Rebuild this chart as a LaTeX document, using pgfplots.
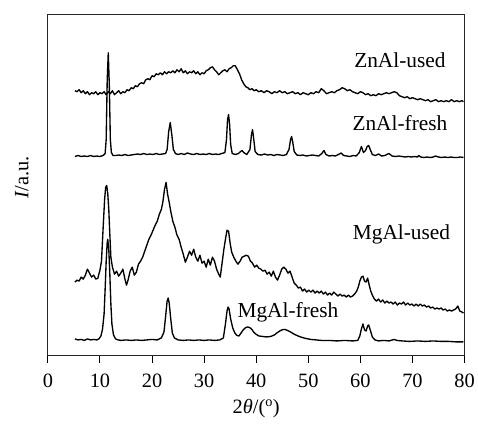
\documentclass[border=0pt]{standalone}
\usepackage{pgfplots}
\pgfplotsset{compat=1.18}
\usepackage{fontspec}
\setmainfont{Liberation Serif}
\begin{document}
\begin{tikzpicture}
\begin{axis}[
  scale only axis, width=418bp, height=342bp,
  xmin=0, xmax=80, ymin=15, ymax=357, y dir=reverse,
  xtick={0,10,...,80}, ytick=\empty, xtick pos=bottom,
  tick align=outside, major tick length=7bp,
  axis line style={black!85, line width=1pt},
  every tick/.style={black, line width=1pt},
  tick label style={font=\fontsize{20.5}{24}\selectfont},
  x tick label style={yshift=-8bp},
  /pgf/number format/assume math mode=true,
  xlabel={2\textit{θ}/(\textsuperscript{o})},
  ylabel={\textit{I}/a.u.},
  x label style={at={(rel axis cs:0.5,0)}, anchor=center, yshift=-53bp, font=\fontsize{20.5}{24}\selectfont},
  y label style={at={(rel axis cs:0,0.523)}, anchor=center, yshift=26bp, font=\fontsize{20.5}{24}\selectfont},
  clip=false,
  every axis plot post/.append style={black, mark=none, line width=1.35pt, line join=round},
]
% ZnAl-used
\addplot coordinates {
(5.2,91)(5.6,92)(6.0,90)(6.4,93)(6.8,91)(7.2,94)(7.6,92)(8.0,95)(8.4,93)(8.8,94)(9.2,92)(9.6,95)(10.0,93)(10.4,94)(10.8,92)(11.2,95)(11.6,92)(12.0,94)(12.4,91)(12.8,95)(13.2,93)(13.6,91)(14.0,94)(14.4,92)(14.8,93)(15.2,90)(15.6,91)(16.0,88)(16.4,89)(16.8,86)(17.2,87)(17.6,84)(18.0,83)(18.4,84)(18.8,80)(19.2,79)(19.6,80)(20.0,76)(20.4,77)(20.8,74)(21.2,75)(21.6,73)(22.0,75)(22.4,72)(22.8,74)(23.2,72)(23.6,73)(24.0,71)(24.4,73)(24.8,70)(25.2,72)(25.6,69)(26.0,73)(26.4,71)(26.8,74)(27.2,72)(27.6,73)(28.0,71)(28.4,74)(28.8,72)(29.2,75)(29.6,73)(30.0,74)(30.4,71)(30.8,70)(31.2,68)(31.6,67)(32.0,70)(32.4,72)(32.8,75)(33.2,73)(33.6,71)(34.0,70)(34.4,72)(34.8,69)(35.2,68)(35.6,66)(36.0,66)(36.4,70)(36.8,74)(37.2,80)(37.6,84)(38.0,87)(38.4,88)(38.8,90)(39.2,89)(39.6,91)(40.0,90)(40.5,92)(41.0,91)(41.5,93)(42.0,91)(42.5,92)(43.0,94)(43.5,92)(44.0,93)(44.5,91)(45.0,93)(45.5,92)(46.0,94)(46.5,93)(47.0,92)(47.5,94)(48.0,93)(48.5,95)(49.0,93)(49.5,94)(50.0,95)(50.5,93)(51.0,94)(51.5,92)(52.0,93)(52.5,89)(53.0,91)(53.5,94)(54.0,93)(54.5,92)(55.0,93)(55.5,91)(56.0,90)(56.5,88)(57.0,89)(57.5,91)(58.0,90)(58.5,92)(59.0,93)(59.5,94)(60.0,92)(60.5,93)(61.0,95)(61.5,94)(62.0,96)(62.5,95)(63.0,96)(63.5,94)(64.0,95)(64.5,94)(65.0,93)(65.5,94)(66.0,93)(66.5,92)(67.0,93)(67.5,96)(68.0,97)(68.5,98)(69.0,97)(69.5,99)(70.0,98)(70.5,99)(71.0,100)(71.5,99)(72.0,100)(72.5,101)(73.0,100)(73.5,102)(74.0,101)(74.5,100)(75.0,102)(75.5,101)(76.0,102)(76.5,101)(77.0,102)(77.5,100)(78.0,102)(78.5,101)(79.0,102)(79.5,101)(79.8,102)
};
% ZnAl-fresh
\addplot coordinates {
(5.2,157)(5.8,156)(6.4,157)(7.0,156.5)(7.6,157)(8.2,156)(8.8,157)(9.4,156.5)(10.0,157)(10.6,156)(11.0,154)(11.2,140)(11.4,80)(11.6,53)(11.8,85)(12.0,140)(12.2,153)(12.5,156)(13.0,156)(13.6,155.5)(14.2,156)(14.8,155)(15.4,156)(16.0,155.5)(16.6,155)(17.2,154.5)(17.8,155)(18.4,154)(19.0,155)(19.6,154.5)(20.2,155)(20.8,154)(21.4,155)(22.0,154.5)(22.6,154)(22.9,150)(23.2,132)(23.5,123)(23.8,135)(24.1,150)(24.5,154)(25.0,155)(25.6,154)(26.2,155)(26.8,153.5)(27.4,154.5)(28.0,155)(28.6,154)(29.2,155)(29.8,154.5)(30.4,155)(31.0,154)(31.6,155)(32.2,154.5)(32.8,155)(33.4,154)(34.0,153)(34.3,140)(34.5,120)(34.7,115)(34.9,125)(35.1,145)(35.4,154)(36.0,155)(36.6,154)(37.0,152)(37.3,151)(37.6,153)(38.2,155)(38.8,150)(39.1,135)(39.3,130)(39.5,138)(39.8,152)(40.3,155)(41.0,155.5)(41.6,154.5)(42.2,155.5)(42.8,155)(43.4,156)(44.0,155)(44.6,155.5)(45.2,156)(45.8,155)(46.3,150)(46.6,140)(46.8,137)(47.0,142)(47.3,152)(47.8,155.5)(48.4,156)(49.0,155.5)(49.6,156.5)(50.2,156)(50.8,155.5)(51.4,156)(52.0,156.5)(52.6,154)(53.0,151)(53.4,155)(54.0,156.5)(54.6,156)(55.2,156.5)(55.8,155)(56.3,153.5)(56.8,156)(57.4,156.5)(58.0,157)(58.6,156)(59.2,156.5)(59.8,153)(60.2,147)(60.6,153)(61.0,151)(61.3,147)(61.6,146)(61.9,150)(62.3,155)(62.9,156)(63.5,154.5)(64.1,156.5)(64.7,156)(65.5,154)(66.1,156.5)(66.8,157)(67.4,156.5)(68.0,157)(68.6,157.5)(69.2,157)(69.8,157.5)(70.4,157)(71.0,157.5)(71.2,156)(71.6,157.5)(72.2,158)(72.8,157.5)(73.4,158)(74.0,157.5)(74.4,156.5)(75.0,157.5)(75.6,158)(76.2,157.5)(76.8,158)(77.4,157.5)(78.0,158)(78.6,158)(79.2,157.5)(79.8,158)
};
% MgAl-used
\addplot coordinates {
(5.2,283)(5.6,281)(6.0,282)(6.4,278)(6.8,280)(7.2,276)(7.6,270)(8.0,274)(8.4,278)(8.8,276)(9.2,280)(9.6,279)(10.0,271)(10.3,262)(10.6,230)(10.9,200)(11.1,188)(11.3,186)(11.5,194)(11.7,210)(11.9,235)(12.1,258)(12.4,268)(12.8,275)(13.2,272)(13.6,277)(14.0,274)(14.4,270)(14.8,280)(15.1,286)(15.4,281)(15.8,272)(16.2,268)(16.6,276)(17.0,273)(17.4,265)(17.8,262)(18.2,258)(18.6,252)(19.0,246)(19.4,240)(19.8,236)(20.2,231)(20.6,226)(21.0,222)(21.4,215)(21.8,210)(22.1,202)(22.4,190)(22.7,183)(23.0,195)(23.3,203)(23.6,212)(24.0,222)(24.4,228)(24.8,236)(25.2,240)(25.6,248)(26.0,255)(26.4,263)(26.8,258)(27.2,252)(27.6,256)(28.0,250)(28.4,258)(28.8,262)(29.2,256)(29.6,264)(30.0,262)(30.4,268)(30.8,260)(31.2,266)(31.6,258)(32.0,262)(32.4,270)(32.8,275)(33.1,278)(33.4,266)(33.8,250)(34.1,240)(34.4,231)(34.7,232)(35.0,244)(35.3,253)(35.7,258)(36.1,262)(36.5,265)(36.9,262)(37.3,258)(37.7,257)(38.1,256)(38.5,257)(38.9,262)(39.3,264)(39.7,268)(40.1,266)(40.5,269)(40.9,270)(41.3,272)(41.7,271)(42.1,275)(42.5,273)(42.9,277)(43.3,272)(43.7,278)(44.1,281)(44.5,276)(44.9,270)(45.3,268)(45.7,270)(46.1,274)(46.5,272)(46.9,278)(47.3,284)(47.7,286)(48.1,289)(48.5,288)(48.9,292)(49.3,290)(49.7,293)(50.1,291)(50.5,293)(50.9,291)(51.3,294)(51.7,292)(52.1,294)(52.5,292)(52.9,295)(53.3,293)(53.7,296)(54.1,294)(54.5,296)(54.9,293)(55.3,295)(55.7,297)(56.1,295)(56.5,297)(56.9,296)(57.3,298)(57.7,296)(58.1,298)(58.5,297)(58.9,295)(59.3,292)(59.6,288)(59.9,282)(60.2,278)(60.5,277)(60.8,282)(61.1,283)(61.4,279)(61.7,286)(62.0,292)(62.3,296)(62.7,300)(63.1,302)(63.5,300)(63.9,303)(64.3,301)(64.7,304)(65.1,302)(65.5,304)(65.9,303)(66.3,305)(66.7,303)(67.1,306)(67.5,304)(67.9,305)(68.3,303)(68.7,306)(69.1,304)(69.5,306)(69.9,305)(70.3,307)(70.7,305)(71.1,307)(71.5,305)(71.9,307)(72.3,306)(72.7,308)(73.1,307)(73.5,309)(73.9,308)(74.3,310)(74.7,309)(75.1,310)(75.5,309)(75.9,311)(76.3,310)(76.7,312)(77.1,311)(77.5,312)(77.9,311)(78.3,310)(78.7,307)(79.1,312)(79.5,313)(79.8,314)
};
% MgAl-fresh
\addplot coordinates {
(5.2,340)(5.8,341)(6.4,340.5)(7.0,341.5)(7.6,340)(8.2,341)(8.8,340.5)(9.4,341)(9.8,340)(10.2,337)(10.5,330)(10.8,315)(11.0,290)(11.2,262)(11.4,243)(11.5,240)(11.7,250)(11.9,275)(12.1,305)(12.3,325)(12.6,336)(13.0,340)(13.5,341)(14.0,341.5)(15.0,341)(16.0,341.5)(17.0,341)(18.0,341.5)(19.0,341)(20.0,340.5)(21.0,341)(21.8,339)(22.3,333)(22.6,318)(22.9,302)(23.1,299)(23.3,304)(23.6,320)(23.9,334)(24.3,339)(25.0,341)(26.0,341.5)(27.0,341)(28.0,341.5)(29.0,341)(30.0,341.5)(31.0,341)(32.0,341.5)(33.0,341)(33.7,339)(34.1,325)(34.4,312)(34.6,308)(34.8,310)(35.1,320)(35.5,329)(35.9,334)(36.3,336.5)(36.7,337)(37.1,334)(37.5,331)(37.9,329)(38.3,328)(38.7,328.5)(39.1,330)(39.5,333)(39.9,335)(40.5,337)(41.2,337.5)(42.0,338)(42.8,337.5)(43.5,336)(44.1,333.5)(44.7,331.5)(45.2,330.5)(45.6,330.5)(46.0,331.5)(46.6,333)(47.2,335)(47.8,336.5)(48.5,338)(49.5,339.5)(50.5,340.5)(51.5,341)(52.5,341.5)(54.0,341.5)(55.5,342)(57.0,341.5)(58.5,342)(59.5,341.5)(59.9,337)(60.2,330)(60.5,325)(60.8,331)(61.1,332)(61.4,327)(61.6,326)(61.9,331)(62.3,338)(62.8,341)(63.5,342)(64.5,341.5)(65.5,342)(66.5,340.5)(67.0,341.5)(68.0,342)(69.5,342.5)(71.0,342)(72.5,342.5)(74.0,342)(75.5,342.5)(77.0,342.5)(78.5,343)(79.8,343)
};
\node[font=\fontsize{21.5}{24}\selectfont] at (axis cs:67.6,60) {ZnAl-used};
\node[font=\fontsize{21.5}{24}\selectfont] at (axis cs:67.6,123) {ZnAl-fresh};
\node[font=\fontsize{21.5}{24}\selectfont] at (axis cs:67.9,235) {MgAl-used};
\node[font=\fontsize{21.5}{24}\selectfont] at (axis cs:46.1,313) {MgAl-fresh};
\path (rel axis cs:0,0) ++(-48bp,-68bp) coordinate (bbA);
\path (rel axis cs:1,1) ++(12bp,15bp) coordinate (bbB);
\path (bbA) rectangle (bbB);
\end{axis}
\end{tikzpicture}
\end{document}
